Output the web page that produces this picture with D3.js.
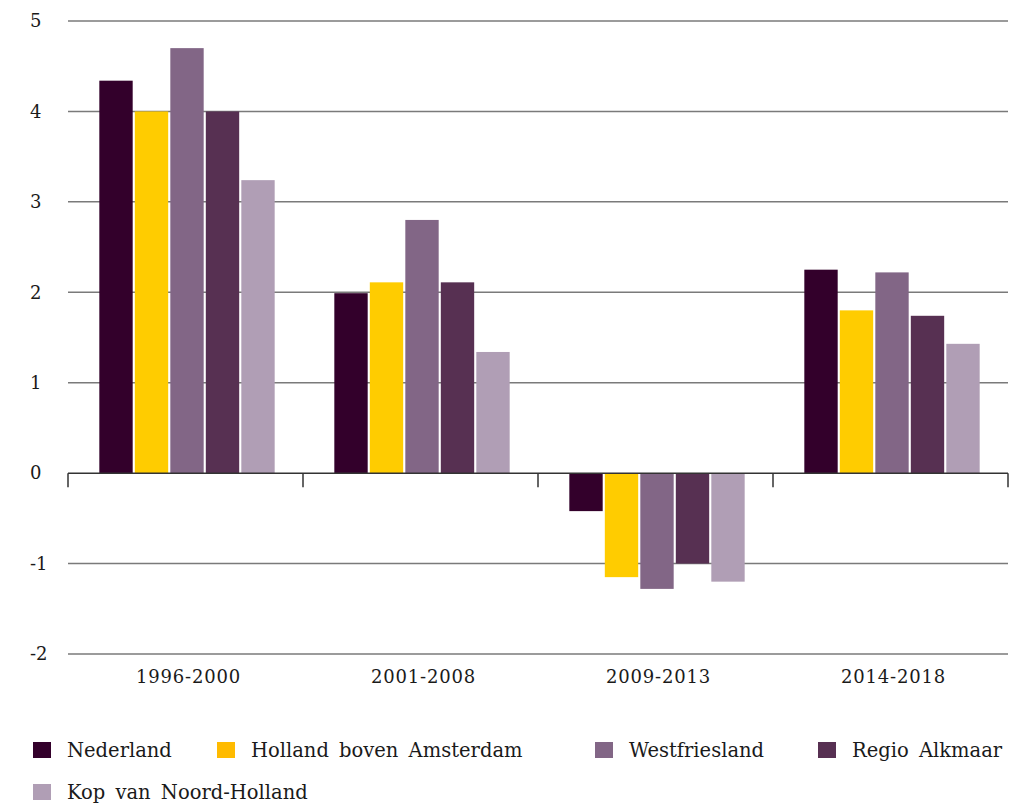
<!DOCTYPE html>
<html>
<head>
<meta charset="utf-8">
<script src="https://cdn.jsdelivr.net/npm/d3@7"></script>
<style>
  body { margin: 0; background: #fff; }
  text { font-family: "DejaVu Serif", serif; fill: #1a1a1a; }
</style>
</head>
<body>
<svg id="chart" width="1032" height="805"></svg>
<script>
// periods on the x axis
var periods = ['1996-2000', '2001-2008', '2009-2013', '2014-2018'];
// regions, one bar per period
var regions = ['Nederland', 'Holland boven Amsterdam', 'Westfriesland', 'Regio Alkmaar', 'Kop van Noord-Holland'];
var colors = ['#33002b', '#ffcc00', '#826686', '#573052', '#b09eb5'];
var legendColors = ['#33002b', '#ffbb00', '#826686', '#573052', '#b09eb5'];

var nederland = [4.34, 1.99, -0.42, 2.25];
var hollandBovenAmsterdam = [4.0, 2.11, -1.15, 1.80];
var westfriesland = [4.70, 2.80, -1.28, 2.22];
var regioAlkmaar = [4.0, 2.11, -1.0, 1.74];
var kopVanNoordHolland = [3.24, 1.34, -1.20, 1.43];
var yTicks = [-2, -1, 0, 1, 2, 3, 4, 5];

var series = [nederland, hollandBovenAmsterdam, westfriesland, regioAlkmaar, kopVanNoordHolland];

var svg = d3.select('#chart');

var plot = {l: 68, r: 1008, t: 21, b: 654};

var x0 = d3.scaleBand().domain(periods).range([plot.l, plot.r]).padding(0);
var x1 = d3.scaleBand().domain(regions).range([0, x0.bandwidth()])
    .paddingInner(0.06).paddingOuter(0.84);
var y = d3.scaleLinear().domain([-2, 5]).range([plot.b, plot.t]);

// gridlines
svg.append('g').attr('class', 'grid')
  .selectAll('line')
  .data(yTicks.filter(function(d) { return d !== 0; }))
  .enter().append('line')
    .attr('x1', plot.l).attr('x2', plot.r)
    .attr('y1', function(d) { return y(d); })
    .attr('y2', function(d) { return y(d); })
    .attr('stroke', '#7a7a7a')
    .attr('stroke-width', 1.5);

// y labels
svg.append('g').attr('class', 'ylabels')
  .selectAll('text')
  .data(yTicks)
  .enter().append('text')
    .attr('x', 30)
    .attr('y', function(d) { return y(d); })
    .attr('dy', '0.35em')
    .attr('font-size', 18)
    .text(function(d) { return d; });

// bars
var rows = [];
periods.forEach(function(p, i) {
  regions.forEach(function(r, j) {
    rows.push({period: p, region: r, value: series[j][i], color: colors[j]});
  });
});

svg.append('g').attr('class', 'bars')
  .attr('transform', 'translate(1.5,0)')
  .selectAll('rect')
  .data(rows)
  .enter().append('rect')
    .attr('x', function(d) { return x0(d.period) + x1(d.region); })
    .attr('width', x1.bandwidth())
    .attr('y', function(d) { return y(Math.max(0, d.value)); })
    .attr('height', function(d) { return Math.abs(y(d.value) - y(0)); })
    .attr('fill', function(d) { return d.color; });

// zero axis with ticks at the category boundaries
var axisG = svg.append('g').attr('transform', 'translate(0,' + y(0) + ')');
axisG.append('line')
  .attr('x1', plot.l).attr('x2', plot.r)
  .attr('stroke', '#333').attr('stroke-width', 1.5);
axisG.selectAll('.bound')
  .data(d3.range(periods.length + 1))
  .enter().append('line')
    .attr('class', 'bound')
    .attr('x1', function(i) { return plot.l + i * x0.step(); })
    .attr('x2', function(i) { return plot.l + i * x0.step(); })
    .attr('y1', 0).attr('y2', 14)
    .attr('stroke', '#333').attr('stroke-width', 1.5);

// category labels
svg.append('g').attr('class', 'xlabels')
  .selectAll('text')
  .data(periods)
  .enter().append('text')
    .attr('x', function(d) { return x0(d) + x0.bandwidth() / 2 + 3; })
    .attr('y', 683)
    .attr('text-anchor', 'middle')
    .attr('font-size', 18)
    .attr('letter-spacing', 0.8)
    .text(function(d) { return d; });

// legend: two rows, items placed at fixed columns
var legendCols = [33, 217, 595, 818, 33];
var legendRows = [742, 742, 742, 742, 784];
var legend = svg.append('g').attr('class', 'legend')
  .selectAll('g')
  .data(regions)
  .enter().append('g')
    .attr('transform', function(d, i) { return 'translate(' + legendCols[i] + ',' + legendRows[i] + ')'; });
legend.append('rect')
  .attr('width', 18).attr('height', 16)
  .attr('fill', function(d, i) { return legendColors[i]; });
legend.append('text')
  .attr('x', 34).attr('y', 14.5)
  .attr('font-size', 19.5)
  .attr('word-spacing', 4)
  .text(function(d) { return d; });
</script>
</body>
</html>
